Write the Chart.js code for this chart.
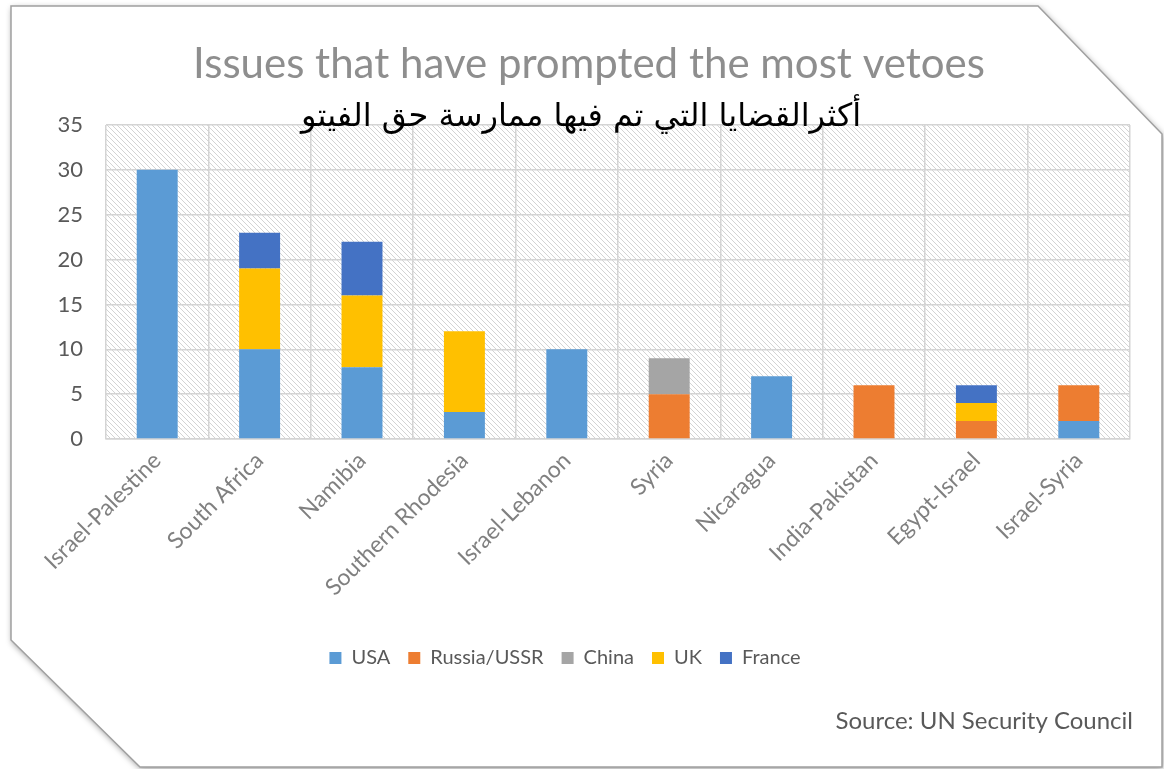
<!DOCTYPE html>
<html>
<head>
<meta charset="utf-8">
<script src="https://cdn.jsdelivr.net/npm/chart.js@4/dist/chart.umd.min.js"></script>
<style>
  html, body { margin: 0; padding: 0; background: #fff; }
  #wrap { width: 1164px; height: 769px; position: relative; }
</style>
</head>
<body>
<div id="wrap"><canvas id="vetoChart"></canvas></div>
<script>
// Data
const issues = ['Israel-Palestine', 'South Africa', 'Namibia', 'Southern Rhodesia', 'Israel-Lebanon',
    'Syria', 'Nicaragua', 'India-Pakistan', 'Egypt-Israel', 'Israel-Syria'];
const usaVetoes    = [30, 10, 8, 3, 10, 0, 7, 0, 0, 2];
const russiaVetoes = [0, 0, 0, 0, 0, 5, 0, 6, 2, 4];
const chinaVetoes  = [0, 0, 0, 0, 0, 4, 0, 0, 0, 0];
const ukVetoes     = [0, 9, 8, 9, 0, 0, 0, 0, 2, 0];
const franceVetoes = [0, 4, 6, 0, 0, 0, 0, 0, 2, 0];
const yTicks = [0, 5, 10, 15, 20, 25, 30, 35];

const titleText = 'Issues that have prompted the most vetoes';
const subtitleText = 'أكثرالقضايا التي تم فيها ممارسة حق الفيتو';
const sourceText = 'Source: UN Security Council';

const seriesColors = {
    usa: '#5B9BD5',
    russia: '#ED7D31',
    china: '#A5A5A5',
    uk: '#FFC000',
    france: '#4472C4'
};

// Frame with cut corners, hatched plot background, titles
const decorPlugin = {
    id: 'decor',
    beforeDraw(chart) {
        const ctx = chart.ctx;
        const area = chart.chartArea;
        ctx.save();
        // frame
        ctx.beginPath();
        ctx.moveTo(11, 6);
        ctx.lineTo(1038, 6);
        ctx.lineTo(1162, 134);
        ctx.lineTo(1162, 767);
        ctx.lineTo(140, 767);
        ctx.lineTo(11, 640);
        ctx.closePath();
        ctx.fillStyle = '#fff';
        ctx.shadowColor = 'rgba(0,0,0,0.4)';
        ctx.shadowBlur = 6;
        ctx.shadowOffsetX = 1;
        ctx.shadowOffsetY = 2;
        ctx.fill();
        ctx.shadowColor = 'transparent';
        ctx.strokeStyle = '#a0a0a0';
        ctx.lineWidth = 1.5;
        ctx.stroke();
        ctx.restore();

        // hatch
        ctx.save();
        ctx.beginPath();
        ctx.rect(area.left, area.top, area.right - area.left, area.bottom - area.top);
        ctx.clip();
        ctx.strokeStyle = '#d3d3d3';
        ctx.lineWidth = 1;
        const h = area.bottom - area.top;
        for (let x = area.left - h; x < area.right; x += 5) {
            ctx.beginPath();
            ctx.moveTo(x, area.top);
            ctx.lineTo(x + h, area.bottom);
            ctx.stroke();
        }
        ctx.restore();
    },
    afterDraw(chart) {
        const ctx = chart.ctx;
        ctx.save();
        ctx.textAlign = 'center';
        ctx.textBaseline = 'alphabetic';
        ctx.fillStyle = '#8e8e8e';
        ctx.font = '42px Lato';
        ctx.fillText(titleText, 589, 78);
        ctx.fillStyle = '#000';
        ctx.font = '32px "DejaVu Sans"';
        ctx.fillText(subtitleText, 581, 126);
        ctx.textAlign = 'right';
        ctx.fillStyle = '#595959';
        ctx.font = '24px Lato';
        ctx.fillText(sourceText, 1133, 729);
        ctx.restore();
    }
};

function makeSet(label, data, color) {
    return {
        label: label,
        data: data,
        backgroundColor: color,
        borderWidth: 0,
        barPercentage: 0.8,
        categoryPercentage: 0.5
    };
}

new Chart(document.getElementById('vetoChart'), {
    type: 'bar',
    data: {
        labels: issues,
        datasets: [
            makeSet('USA', usaVetoes, seriesColors.usa),
            makeSet('Russia/USSR', russiaVetoes, seriesColors.russia),
            makeSet('China', chinaVetoes, seriesColors.china),
            makeSet('UK', ukVetoes, seriesColors.uk),
            makeSet('France', franceVetoes, seriesColors.france)
        ]
    },
    plugins: [decorPlugin],
    options: {
        responsive: true,
        maintainAspectRatio: false,
        animation: false,
        layout: {
            padding: { left: 0, right: 34, top: 125, bottom: 91 }
        },
        plugins: {
            legend: {
                position: 'bottom',
                labels: {
                    boxWidth: 12,
                    boxHeight: 12,
                    padding: 18,
                    color: '#595959',
                    font: { family: 'Lato', size: 20 }
                }
            },
            tooltip: { enabled: false }
        },
        scales: {
            x: {
                stacked: true,
                grid: { color: '#d4d4d4', lineWidth: 1.5, drawTicks: false },
                border: { color: '#d4d4d4', width: 1.5 },
                afterFit(axis) { axis.height = 191; },
                ticks: {
                    color: '#808080',
                    minRotation: 45,
                    maxRotation: 45,
                    padding: 8,
                    font: { family: 'Lato', size: 23 }
                }
            },
            y: {
                stacked: true,
                min: 0,
                max: 35,
                afterBuildTicks(axis) {
                    axis.ticks = yTicks.map(v => ({ value: v }));
                },
                afterFit(axis) { axis.width = 106; },
                grid: { color: '#d4d4d4', lineWidth: 1.5, drawTicks: false },
                border: { display: false },
                ticks: {
                    color: '#595959',
                    padding: 23,
                    font: { family: 'Lato', size: 22 }
                }
            }
        }
    }
});
</script>
</body>
</html>
